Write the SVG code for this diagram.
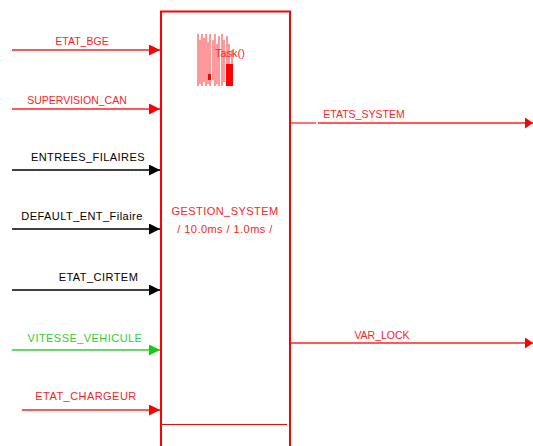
<svg xmlns="http://www.w3.org/2000/svg" width="533" height="446" viewBox="0 0 533 446">
<style>
text{font-family:"Liberation Sans",Arial,sans-serif;font-size:11px;letter-spacing:0.45px}
text.s{font-size:10.5px;letter-spacing:0}
.r{fill:#f22}.k{fill:#000}.g{fill:#3c3}
.lr{stroke:#f22;stroke-width:1.3;fill:none}.lk{stroke:#000;stroke-width:1.3;fill:none}.lg{stroke:#3c3;stroke-width:1.6;fill:none}
</style>
<defs>
<marker id="ar" markerWidth="11" markerHeight="11" refX="11" refY="5.5" orient="auto" markerUnits="userSpaceOnUse"><path d="M0,0L11,5.5L0,11z" fill="#f00"/></marker>
<marker id="ak" markerWidth="11" markerHeight="11" refX="11" refY="5.5" orient="auto" markerUnits="userSpaceOnUse"><path d="M0,0L11,5.5L0,11z" fill="#000"/></marker>
<marker id="ag" markerWidth="11" markerHeight="11" refX="11" refY="5.5" orient="auto" markerUnits="userSpaceOnUse"><path d="M0,0L11,5.5L0,11z" fill="#1c1"/></marker>
<marker id="ao" markerWidth="8" markerHeight="11" refX="8" refY="5.5" orient="auto" markerUnits="userSpaceOnUse"><path d="M0,0L8,5.5L0,11z" fill="#f00"/></marker>
</defs>
<g id="gestion_system">
<rect x="161" y="11.5" width="129" height="450" fill="#fff" stroke="#f00" stroke-width="2"/>
<line x1="161" y1="424.5" x2="287" y2="424.5" stroke="#f00" stroke-width="1.2"/>
<g stroke="#f00" stroke-width="1" opacity="0.8">
<line x1="198" y1="34" x2="198" y2="86"/><line x1="200" y1="40" x2="200" y2="84"/><line x1="202" y1="34" x2="202" y2="86"/><line x1="204" y1="38" x2="204" y2="82"/><line x1="206" y1="34" x2="206" y2="86"/><line x1="208" y1="42" x2="208" y2="84"/><line x1="210" y1="34" x2="210" y2="86"/><line x1="213" y1="40" x2="213" y2="80"/><line x1="215" y1="34" x2="215" y2="86"/><line x1="217" y1="44" x2="217" y2="84"/><line x1="219" y1="36" x2="219" y2="86"/><line x1="222" y1="34" x2="222" y2="86"/><line x1="224" y1="40" x2="224" y2="82"/><line x1="227" y1="36" x2="227" y2="86"/><line x1="229" y1="44" x2="229" y2="86"/><line x1="232" y1="50" x2="232" y2="86"/>
</g>
<rect x="208" y="74" width="3" height="6" fill="#f00"/>
<rect x="226" y="64" width="7" height="22" fill="#f00"/>
<text x="215" y="57" class="r" font-size="9" style="letter-spacing:0">Task()</text>
<text x="225" y="215" class="r" text-anchor="middle">GESTION_SYSTEM</text>
<text x="225" y="233" class="r" text-anchor="middle">/ 10.0ms / 1.0ms /</text>
</g>
<g id="connectors">
<line x1="12" y1="50" x2="160" y2="50" class="lr" marker-end="url(#ar)"/>
<line x1="12" y1="109" x2="160" y2="109" class="lr" marker-end="url(#ar)"/>
<line x1="12" y1="170" x2="160" y2="170" class="lk" marker-end="url(#ak)"/>
<line x1="12" y1="229" x2="160" y2="229" class="lk" marker-end="url(#ak)"/>
<line x1="12" y1="290" x2="160" y2="290" class="lk" marker-end="url(#ak)"/>
<line x1="12" y1="350" x2="160" y2="350" class="lg" marker-end="url(#ag)"/>
<line x1="22" y1="410" x2="160" y2="410" class="lr" marker-end="url(#ar)"/>
<line x1="291" y1="123" x2="316" y2="123" class="lr"/>
<line x1="318" y1="123" x2="533" y2="123" class="lr" marker-end="url(#ao)"/>
<line x1="291" y1="343" x2="533" y2="343" class="lr" marker-end="url(#ao)"/>
</g>
<g id="labels">
<text x="82" y="45" class="r s" text-anchor="middle">ETAT_BGE</text>
<text x="77" y="104" class="r s" text-anchor="middle">SUPERVISION_CAN</text>
<text x="88" y="161" class="k" text-anchor="middle">ENTREES_FILAIRES</text>
<text x="82" y="220" class="k" text-anchor="middle">DEFAULT_ENT_Filaire</text>
<text x="98.5" y="281" class="k" text-anchor="middle">ETAT_CIRTEM</text>
<text x="85" y="342" class="g" text-anchor="middle">VITESSE_VEHICULE</text>
<text x="86" y="400" class="r" text-anchor="middle">ETAT_CHARGEUR</text>
<text x="364" y="118" class="r s" text-anchor="middle">ETATS_SYSTEM</text>
<text x="382" y="339" class="r s" text-anchor="middle">VAR_LOCK</text>
</g>
</svg>
